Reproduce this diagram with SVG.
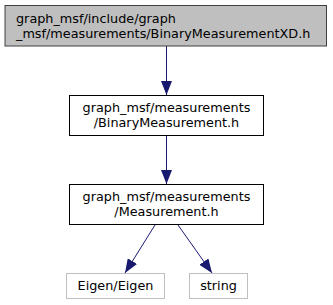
<svg xmlns="http://www.w3.org/2000/svg" width="333" height="305" viewBox="0 0 333 305">
  <defs>
    <marker id="arrow" markerWidth="14" markerHeight="11" refX="14" refY="5.5" orient="auto" markerUnits="userSpaceOnUse" viewBox="0 0 14 11">
      <path d="M0,0 L14,5.5 L0,11 Z" fill="#191970"/>
    </marker>
  </defs>
  <style>
    text { font-family: "DejaVu Sans", sans-serif; font-size: 12.8px; fill: #000; }
    .c { text-anchor: middle; }
    .box { fill: #fff; stroke: #000; stroke-width: 1; }
    .root { fill: #bfbfbf; stroke: #404040; stroke-width: 1; }
    .ext { fill: #fff; stroke: #bfbfbf; stroke-width: 1; }
    .edge { fill: none; stroke: #191970; stroke-width: 1; marker-end: url(#arrow); }
  </style>
  <rect width="333" height="305" fill="#fff"/>

  <g id="connectors">
    <path class="edge" d="M166.5,46 L166.5,95"/>
    <path class="edge" d="M166.5,136 L166.5,184"/>
    <path class="edge" d="M155,225 L125,273"/>
    <path class="edge" d="M178,225 L212,273"/>
  </g>

  <g id="node1">
    <rect class="root" x="5" y="5.5" width="321.5" height="40.5"/>
    <text x="16" y="22.5">graph_msf/include/graph</text>
    <text x="16" y="37.5">_msf/measurements/BinaryMeasurementXD.h</text>
  </g>

  <g id="node2">
    <rect class="box" x="69.5" y="95.5" width="194" height="40"/>
    <text class="c" x="166.5" y="112">graph_msf/measurements</text>
    <text class="c" x="166.5" y="126.5">/BinaryMeasurement.h</text>
  </g>

  <g id="node3">
    <rect class="box" x="69.5" y="184.5" width="194" height="40"/>
    <text class="c" x="166.5" y="201">graph_msf/measurements</text>
    <text class="c" x="166.5" y="215.5">/Measurement.h</text>
  </g>

  <g id="node4">
    <rect class="ext" x="66.5" y="273.5" width="98" height="25"/>
    <text class="c" x="115.5" y="290">Eigen/Eigen</text>
  </g>

  <g id="node5">
    <rect class="ext" x="189.5" y="273.5" width="58" height="25"/>
    <text class="c" x="218.5" y="290">string</text>
  </g>
</svg>
